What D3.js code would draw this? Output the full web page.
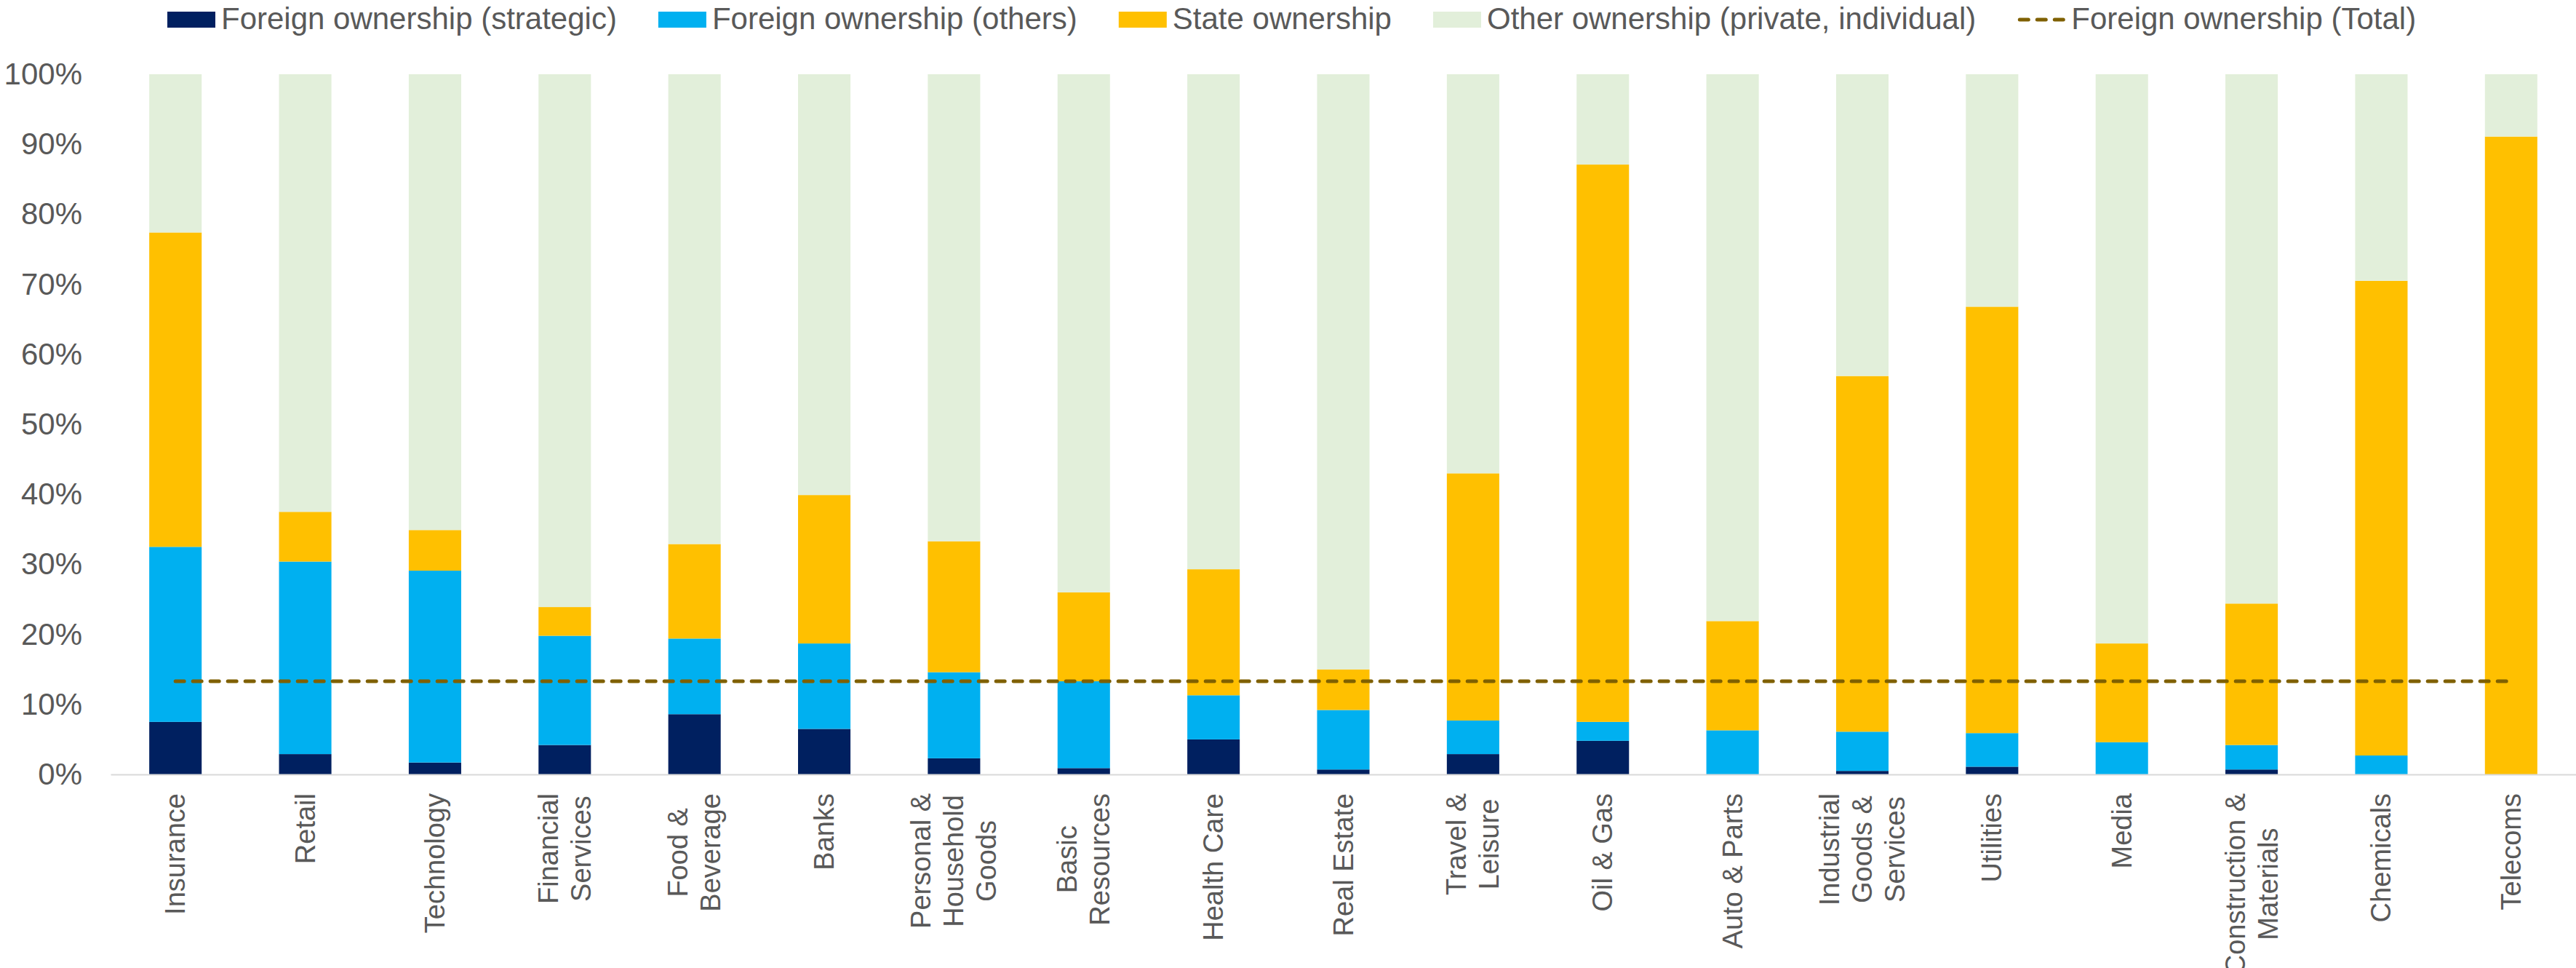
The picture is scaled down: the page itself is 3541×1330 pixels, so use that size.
<!DOCTYPE html>
<html>
<head>
<meta charset="utf-8">
<script src="https://cdn.jsdelivr.net/npm/d3@7"></script>
<style>
  html, body { margin: 0; padding: 0; background: #ffffff; }
  svg { display: block; font-family: "Liberation Sans", Arial, sans-serif; }
</style>
</head>
<body>
<svg id="chart" width="3541" height="1330"></svg>
<script>
// ---- Data (shares of market capitalisation, %) ----
const categories = [
  "Insurance", "Retail", "Technology", "Financial Services", "Food & Beverage",
  "Banks", "Personal & Household Goods", "Basic Resources", "Health Care",
  "Real Estate", "Travel & Leisure", "Oil & Gas", "Auto & Parts",
  "Industrial Goods & Services", "Utilities", "Media",
  "Construction & Materials", "Chemicals", "Telecoms"
];

const tickLabels = [
  ["Insurance"], ["Retail"], ["Technology"], ["Financial", "Services"], ["Food &", "Beverage"],
  ["Banks"], ["Personal &", "Household", "Goods"], ["Basic", "Resources"], ["Health Care"],
  ["Real Estate"], ["Travel &", "Leisure"], ["Oil & Gas"], ["Auto & Parts"],
  ["Industrial", "Goods &", "Services"], ["Utilities"], ["Media"],
  ["Construction &", "Materials"], ["Chemicals"], ["Telecoms"]
];

const foreignStrategic = [7.5, 2.9, 1.7, 4.2, 8.6, 6.5, 2.3, 0.9, 5.0, 0.7, 2.9, 4.8, 0.0, 0.5, 1.1, 0.0, 0.7, 0.0, 0.0];
const foreignOthers    = [25.0, 27.5, 27.4, 15.6, 10.8, 12.2, 12.3, 12.4, 6.3, 8.5, 4.8, 2.7, 6.3, 5.6, 4.8, 4.6, 3.5, 2.7, 0.0];
const stateOwnership   = [44.9, 7.1, 5.8, 4.1, 13.5, 21.2, 18.7, 12.7, 18.0, 5.8, 35.3, 79.6, 15.6, 50.8, 60.9, 14.1, 20.2, 67.8, 91.1];
const otherOwnership   = [22.6, 62.5, 65.1, 76.1, 67.1, 60.1, 66.7, 74.0, 70.7, 85.0, 57.0, 12.9, 78.1, 43.1, 33.2, 81.3, 75.6, 29.5, 8.9];
const foreignTotal     = [13.3, 13.3, 13.3, 13.3, 13.3, 13.3, 13.3, 13.3, 13.3, 13.3, 13.3, 13.3, 13.3, 13.3, 13.3, 13.3, 13.3, 13.3, 13.3];

const yTicks = [0, 10, 20, 30, 40, 50, 60, 70, 80, 90, 100];

const seriesKeys   = ["strategic", "others", "state", "other"];
const seriesNames  = ["Foreign ownership (strategic)", "Foreign ownership (others)", "State ownership", "Other ownership (private, individual)"];
const seriesColors = ["#002060", "#00B0F0", "#FFC000", "#E2EFDA"];
const totalName  = "Foreign ownership (Total)";
const totalColor = "#7F6000";

// ---- Layout ----
const plot = { left: 152, right: 3541, top: 102, bottom: 1064 };
const textColor = "#595959";

const svg = d3.select("#chart");

const x = d3.scaleBand()
  .domain(categories)
  .range([plot.left, plot.right])
  .paddingInner(0.596)
  .paddingOuter(0.298);

const y = d3.scaleLinear().domain([0, 100]).range([plot.bottom, plot.top]);

// table for stacking
const table = categories.map((c, i) => ({
  category: c,
  strategic: foreignStrategic[i],
  others: foreignOthers[i],
  state: stateOwnership[i],
  other: otherOwnership[i]
}));

const stacked = d3.stack().keys(seriesKeys)(table);

// ---- Bars ----
svg.append("g")
  .selectAll("g")
  .data(stacked)
  .join("g")
    .attr("fill", (d, i) => seriesColors[i])
  .selectAll("rect")
  .data(d => d)
  .join("rect")
    .attr("x", d => x(d.data.category))
    .attr("width", x.bandwidth())
    .attr("y", d => y(d[1]))
    .attr("height", d => Math.max(0, y(d[0]) - y(d[1])));

// ---- Y axis (labels only) ----
const yAxis = d3.axisLeft(y)
  .tickValues(yTicks)
  .tickFormat(d => d + "%")
  .tickSize(0)
  .tickPadding(0);

const yg = svg.append("g")
  .attr("transform", "translate(113,0)")
  .call(yAxis);
yg.select(".domain").remove();
yg.selectAll("text")
  .attr("fill", textColor)
  .style("font-size", "42px")
  .style("font-family", "'Liberation Sans', Arial, sans-serif");

// ---- X axis baseline ----
const xAxis = d3.axisBottom(x).tickSize(0).tickFormat("");
const xg = svg.append("g")
  .attr("transform", `translate(0,${plot.bottom})`)
  .call(xAxis);
xg.select(".domain")
  .attr("stroke", "#D9D9D9")
  .attr("stroke-width", 2);

// rotated category labels, lines centred on each other, block ending just under the axis
const labelTop = 1090;
const labelFont = 38;
const lineH = 45;
const labelG = svg.append("g");
categories.forEach((c, i) => {
  const cx = x(c) + x.bandwidth() / 2;
  const g = labelG.append("g")
    .attr("transform", `translate(${cx},${labelTop}) rotate(-90)`);
  const lines = tickLabels[i];
  const texts = lines.map((ln, k) => g.append("text")
    .attr("y", (k - (lines.length - 1) / 2) * lineH)
    .attr("dominant-baseline", "central")
    .attr("text-anchor", "middle")
    .attr("fill", textColor)
    .style("font-size", labelFont + "px")
    .text(ln));
  const maxLen = d3.max(texts, t => t.node().getComputedTextLength());
  texts.forEach(t => t.attr("x", -maxLen / 2));
});

// ---- Foreign ownership total line ----
const line = d3.line()
  .x(d => x(d.category) + x.bandwidth() / 2)
  .y(d => y(d.value));

svg.append("path")
  .datum(categories.map((c, i) => ({ category: c, value: foreignTotal[i] })))
  .attr("fill", "none")
  .attr("stroke", totalColor)
  .attr("stroke-width", 5)
  .attr("stroke-dasharray", "12 12")
  .attr("stroke-linecap", "round")
  .attr("d", line);

// ---- Legend ----
const legend = svg.append("g");
const legendFont = 42;
const swW = 66, swH = 22, swY = 16, textGap = 8, itemGap = 57;
let cursor = 230;
const legendItems = seriesNames.map((n, i) => ({ name: n, color: seriesColors[i], type: "rect" }))
  .concat([{ name: totalName, color: totalColor, type: "line" }]);

legendItems.forEach(item => {
  if (item.type === "rect") {
    legend.append("rect")
      .attr("x", cursor).attr("y", swY)
      .attr("width", swW).attr("height", swH)
      .attr("fill", item.color);
  } else {
    legend.append("line")
      .attr("x1", cursor + 3).attr("x2", cursor + swW - 3)
      .attr("y1", swY + swH / 2).attr("y2", swY + swH / 2)
      .attr("stroke", item.color)
      .attr("stroke-width", 5)
      .attr("stroke-dasharray", "12 12")
      .attr("stroke-linecap", "round");
  }
  const t = legend.append("text")
    .attr("x", cursor + swW + textGap)
    .attr("y", 40)
    .attr("fill", textColor)
    .style("font-size", legendFont + "px")
    .text(item.name);
  cursor += swW + textGap + t.node().getComputedTextLength() + itemGap;
});
</script>
</body>
</html>
